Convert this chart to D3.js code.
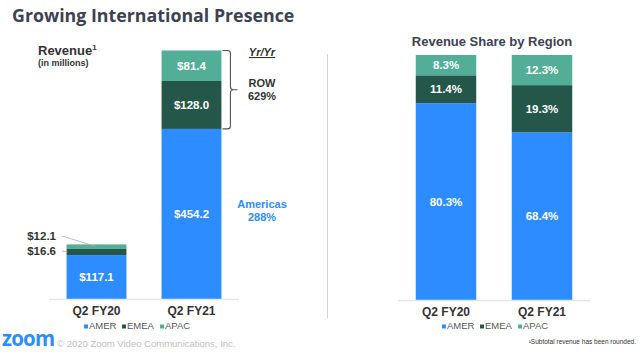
<!DOCTYPE html>
<html>
<head>
<meta charset="utf-8">
<script src="https://cdn.jsdelivr.net/npm/d3@7"></script>
<style>
  body { margin: 0; background: #fff; }
  svg { display: block; font-family: "Liberation Sans", Arial, sans-serif; }
</style>
</head>
<body>
<div id="d3chart"></div>
<script>
// Data
const quarters = ['Q2 FY20', 'Q2 FY21']
const regions = ['AMER', 'EMEA', 'APAC']
const revenueAMER = [117.1, 454.2]
const revenueEMEA = [16.6, 128.0]
const revenueAPAC = [12.1, 81.4]
const shareAMER = [80.3, 68.4]
const shareEMEA = [11.4, 19.3]
const shareAPAC = [8.3, 12.3]
const rowGrowth = '629%'
const americasGrowth = '288%'

const colors = { AMER: '#2d8cff', EMEA: '#24564a', APAC: '#52ae96' }

const width = 640
const height = 352

const svg = d3.select('#d3chart')
  .append('svg')
  .attr('width', width)
  .attr('height', height)

// builds stacked rows via d3.stack
function stackRows (amer, emea, apac) {
  const table = quarters.map((q, i) => ({ quarter: q, AMER: amer[i], EMEA: emea[i], APAC: apac[i] }))
  return d3.stack().keys(regions)(table)
}

// draws one stacked bar panel, returns the scales
function drawPanel (opts) {
  const x = d3.scaleBand().domain(quarters)
    .range(opts.xRange).paddingInner(0.37).paddingOuter(0.185)
  const y = d3.scaleLinear().domain(opts.yDomain).range(opts.yRange)

  const g = svg.append('g')
  const series = stackRows(...opts.values)

  g.selectAll('g.layer')
    .data(series)
    .join('g')
    .attr('class', 'layer')
    .attr('fill', d => colors[d.key])
    .selectAll('rect')
    .data(d => d.map(v => ({ key: d.key, y0: v[0], y1: v[1], q: v.data.quarter })))
    .join('rect')
    .attr('x', d => x(d.q))
    .attr('width', x.bandwidth())
    .attr('y', d => y(d.y1))
    .attr('height', d => y(d.y0) - y(d.y1))

  // baseline
  g.append('line')
    .attr('x1', opts.xRange[0]).attr('x2', opts.xRange[1])
    .attr('y1', y(0) + 0.5).attr('y2', y(0) + 0.5)
    .attr('stroke', '#e3e4ec').attr('stroke-width', 1.5)

  // category labels
  const axis = d3.axisBottom(x).tickSize(0).tickPadding(0)
  const ax = g.append('g').attr('transform', `translate(0,${y(0) + 7})`).call(axis)
  ax.select('.domain').remove()
  ax.selectAll('text')
    .attr('font-size', 12).attr('font-weight', 'bold')
    .attr('fill', '#333').attr('font-family', '"Liberation Sans", Arial, sans-serif')

  // in-bar labels
  series.forEach(layer => {
    layer.forEach(v => {
      const h = y(v[0]) - y(v[1])
      if (h < 12) return
      g.append('text')
        .attr('x', x(v.data.quarter) + x.bandwidth() / 2)
        .attr('y', (y(v[0]) + y(v[1])) / 2 + 4)
        .attr('text-anchor', 'middle')
        .attr('font-size', 11.5).attr('font-weight', 'bold')
        .attr('fill', '#fff')
        .text(opts.fmt(v[1] - v[0]))
    })
  })

  // legend
  const lg = g.append('g').attr('transform', `translate(${opts.legendX},328)`)
  const offsets = [0, 38, 76]
  regions.forEach((r, i) => {
    lg.append('rect').attr('x', offsets[i]).attr('y', -3.5).attr('width', 4).attr('height', 4).attr('fill', colors[r])
    lg.append('text').attr('x', offsets[i] + 5).attr('y', 1)
      .attr('font-size', 9.5).attr('fill', '#555').text(r)
  })

  return { x, y, series }
}

// title
svg.append('text')
  .attr('x', 12).attr('y', 22)
  .attr('font-family', '"Open Sans", sans-serif')
  .attr('font-size', 17.8).attr('font-weight', 'bold')
  .attr('fill', '#3d4152')
  .text('Growing International Presence')

// left panel: revenue
const left = drawPanel({
  xRange: [49, 239],
  yDomain: [0, d3.max(quarters.map((q, i) => revenueAMER[i] + revenueEMEA[i] + revenueAPAC[i]))],
  yRange: [299, 50.5],
  values: [revenueAMER, revenueEMEA, revenueAPAC],
  fmt: v => '$' + v.toFixed(1),
  legendX: 84
})

const rev = svg.append('text').attr('x', 38).attr('y', 55)
  .attr('font-size', 13).attr('font-weight', 'bold').attr('fill', '#333')
rev.append('tspan').text('Revenue')
rev.append('tspan').attr('dy', -5).attr('font-size', 8).text('1')
svg.append('text').attr('x', 38).attr('y', 66)
  .attr('font-size', 9).attr('font-weight', 'bold').attr('fill', '#333')
  .text('(in millions)')

// small segments of FY20 get outside labels with leaders
const fy20 = quarters[0]
const bx = left.x(fy20)
const apacLayer = left.series[2][0]
const emeaLayer = left.series[1][0]
const outside = [
  { label: '$' + revenueAPAC[0].toFixed(1), ty: 236, tx: bx + 30, sy: (left.y(apacLayer[0]) + left.y(apacLayer[1])) / 2 },
  { label: '$' + revenueEMEA[0].toFixed(1), ty: 251, tx: bx + 1, sy: (left.y(emeaLayer[0]) + left.y(emeaLayer[1])) / 2 }
]
outside.forEach(o => {
  svg.append('text').attr('x', 56).attr('y', o.ty + 4)
    .attr('text-anchor', 'end').attr('font-size', 11.5).attr('font-weight', 'bold').attr('fill', '#333')
    .text(o.label)
  svg.append('line').attr('x1', 62).attr('y1', o.ty).attr('x2', o.tx).attr('y2', o.sy)
    .attr('stroke', '#aaa').attr('stroke-width', 0.8)
})

// bracket for ROW
const fy21 = quarters[1]
const bTop = left.y(left.series[2][1][1])
const bBot = left.y(left.series[1][1][0])
const bR = left.x(fy21) + left.x.bandwidth() + 9
const bMid = (bTop + bBot) / 2
svg.append('path')
  .attr('d', `M${bR - 8},${bTop} h5 q3,0 3,3 V${bMid - 3} q0,3 3,3 h4 M${bR + 3},${bMid} q-3,0 -3,3 V${bBot - 3} q0,3 -3,3 h-5`)
  .attr('fill', 'none').attr('stroke', '#555').attr('stroke-width', 1.1)

svg.append('text').attr('x', 262).attr('y', 56).attr('text-anchor', 'middle')
  .attr('font-size', 11).attr('font-weight', 'bold').attr('font-style', 'italic')
  .attr('text-decoration', 'underline').attr('fill', '#333').text('Yr/Yr')
svg.append('text').attr('x', 262).attr('y', 87).attr('text-anchor', 'middle')
  .attr('font-size', 11).attr('font-weight', 'bold').attr('fill', '#333').text('ROW')
svg.append('text').attr('x', 262).attr('y', 100).attr('text-anchor', 'middle')
  .attr('font-size', 11).attr('font-weight', 'bold').attr('fill', '#333').text(rowGrowth)
svg.append('text').attr('x', 262).attr('y', 208).attr('text-anchor', 'middle')
  .attr('font-size', 11).attr('font-weight', 'bold').attr('fill', colors.AMER).text('Americas')
svg.append('text').attr('x', 262).attr('y', 221).attr('text-anchor', 'middle')
  .attr('font-size', 11).attr('font-weight', 'bold').attr('fill', colors.AMER).text(americasGrowth)

// divider
svg.append('line').attr('x1', 327.5).attr('x2', 327.5).attr('y1', 54).attr('y2', 318)
  .attr('stroke', '#d4d4d4').attr('stroke-width', 1)

// right panel: share
drawPanel({
  xRange: [398, 590],
  yDomain: [0, 100],
  yRange: [300, 55],
  values: [shareAMER, shareEMEA, shareAPAC],
  fmt: v => v.toFixed(1) + '%',
  legendX: 442
})

svg.append('text').attr('x', 492).attr('y', 46).attr('text-anchor', 'middle')
  .attr('font-size', 13).attr('font-weight', 'bold').attr('fill', '#3d4152')
  .text('Revenue Share by Region')

svg.append('text').attr('x', 636).attr('y', 344).attr('text-anchor', 'end')
  .attr('font-size', 6.5).attr('fill', '#333')
  .text('\u00b9Subtotal revenue has been rounded.')

// footer
svg.append('text').attr('x', 2).attr('y', 346)
  .attr('font-family', '"Open Sans", sans-serif')
  .attr('font-size', 20.5).attr('font-weight', 'bold').attr('letter-spacing', -0.8)
  .attr('fill', colors.AMER).text('zoom')
svg.append('text').attr('x', 57).attr('y', 347)
  .attr('font-size', 9.5).attr('fill', '#c0c0c0')
  .text('\u00a9 2020 Zoom Video Communications, Inc.')
</script>
</body>
</html>
